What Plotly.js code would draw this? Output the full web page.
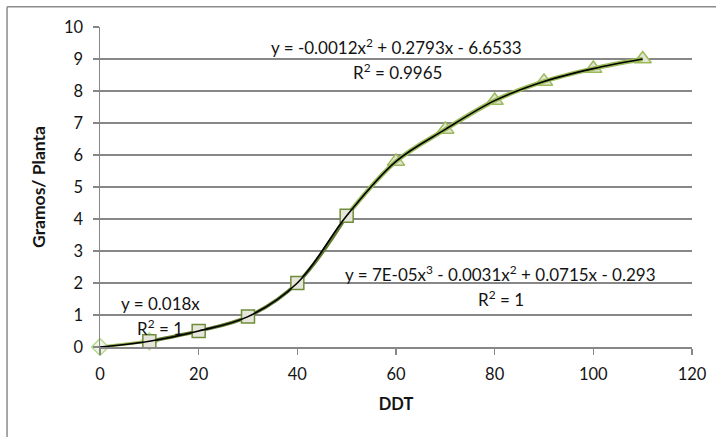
<!DOCTYPE html>
<html>
<head>
<meta charset="utf-8">
<script src="https://cdn.plot.ly/plotly-3.0.1.min.js"></script>
<style>
  html, body { margin: 0; padding: 0; background: #ffffff; }
  #chart { width: 716px; height: 437px; }
</style>
</head>
<body>
<div id="chart"></div>
<script>
// DDT (x) vs grams per plant (y), three growth phases
const phase1X = [0, 10];
const phase1Y = [0, 0.18];

const phase2X = [10, 20, 30, 40, 50];
const phase2Y = [0.18, 0.5, 0.95, 2.0, 4.1];

const phase3X = [50, 60, 70, 80, 90, 100, 110];
const phase3Y = [4.1, 5.8, 6.8, 7.7, 8.3, 8.7, 9.0];

// smoothed fit line drawn across all phases
const fitX = [0, 10, 20, 30, 40, 50, 60, 70, 80, 90, 100, 110];
const fitY = [0, 0.18, 0.5, 0.95, 2.0, 4.1, 5.8, 6.8, 7.7, 8.3, 8.7, 9.0];

const xTicks = [0, 20, 40, 60, 80, 100, 120];
const yTicks = [0, 1, 2, 3, 4, 5, 6, 7, 8, 9, 10];

const eqLinear = 'y = 0.018x';
const r2Linear = 'R<sup>2</sup> = 1';
const eqCubic = 'y = 7E-05x<sup>3</sup> - 0.0031x<sup>2</sup> + 0.0715x - 0.293';
const r2Cubic = 'R<sup>2</sup> = 1';
const eqQuad = 'y = -0.0012x<sup>2</sup> + 0.2793x - 6.6533';
const r2Quad = 'R<sup>2</sup> = 0.9965';

const FONT = 'Lato, "Open Sans", sans-serif';
const INK = '#141414';
const GRID = '#878787';

const traces = [
  {
    x: phase3X.slice(1), y: phase3Y.slice(1), type: 'scatter', mode: 'markers', cliponaxis: false,
    marker: { symbol: 'triangle-up', size: 15, color: '#e3e3d6', line: { color: '#9bbb59', width: 1.5 } },
    hoverinfo: 'skip'
  },
  {
    x: phase3X, y: phase3Y, type: 'scatter', mode: 'lines', cliponaxis: false,
    line: { color: '#9bbb59', width: 4.5, shape: 'spline', smoothing: 1 },
    hoverinfo: 'skip'
  },
  {
    x: phase1X, y: phase1Y, type: 'scatter', mode: 'lines+markers', cliponaxis: false,
    line: { color: '#9bbb59', width: 3 },
    marker: { symbol: 'diamond', size: 13, color: '#eef4e6', line: { color: '#b5d98f', width: 1.5 } },
    hoverinfo: 'skip'
  },
  {
    x: phase2X, y: phase2Y, type: 'scatter', mode: 'lines+markers', cliponaxis: false,
    line: { color: '#5f7a2e', width: 3.5, shape: 'spline', smoothing: 1 },
    marker: { symbol: 'square', size: 13, color: '#e6e6da', line: { color: '#6f8c3a', width: 1.5 } },
    hoverinfo: 'skip'
  },
  {
    x: fitX, y: fitY, type: 'scatter', mode: 'lines', cliponaxis: false,
    line: { color: '#000000', width: 1.6, shape: 'spline', smoothing: 1 },
    hoverinfo: 'skip'
  }
];

function note(text, x, y) {
  return {
    text: text, xref: 'x', yref: 'y', x: x, y: y,
    showarrow: false, xanchor: 'center', yanchor: 'middle',
    font: { family: FONT, size: 17, color: INK }
  };
}

const layout = {
  width: 716, height: 437,
  margin: { l: 100, r: 24, t: 27, b: 90, pad: 0 },
  paper_bgcolor: '#ffffff', plot_bgcolor: '#ffffff',
  showlegend: false,
  font: { family: FONT, size: 16, color: INK },
  xaxis: {
    range: [0, 120], tickvals: xTicks, ticktext: xTicks.map(String),
    showgrid: false, zeroline: false,
    showline: true, linecolor: GRID, linewidth: 1.5,
    ticks: 'outside', ticklen: 6, tickcolor: GRID, tickwidth: 1.2,
    ticklabelstandoff: 6,
    tickfont: { family: FONT, size: 16.5, color: INK },
    title: { text: '<b>DDT</b>', font: { family: FONT, size: 16.5, color: INK }, standoff: 15 },
    fixedrange: true
  },
  yaxis: {
    range: [0, 10], tickvals: yTicks, ticktext: yTicks.map(String),
    showgrid: true, gridcolor: GRID, gridwidth: 1.2, zeroline: false,
    showline: true, linecolor: GRID, linewidth: 1.5,
    ticks: 'outside', ticklen: 6, tickcolor: GRID, tickwidth: 1.2,
    ticklabelstandoff: 6,
    tickfont: { family: FONT, size: 16.5, color: INK },
    title: { text: '<b>Gramos/ Planta</b>', font: { family: FONT, size: 17.5, color: INK }, standoff: 14 },
    fixedrange: true
  },
  shapes: [
    { type: 'line', xref: 'paper', yref: 'paper', x0: -0.157, x1: -0.157, y0: 1.0636, y1: -0.5,
      line: { color: '#8c8c8c', width: 1.5 } },
    { type: 'line', xref: 'paper', yref: 'paper', x0: -0.157, x1: 1.2, y0: 1.0636, y1: 1.0636,
      line: { color: '#8c8c8c', width: 1.5 } }
  ],
  annotations: [
    note(eqQuad, 60.1, 9.38),
    note(r2Quad, 60.3, 8.6),
    note(eqCubic, 81.2, 2.29),
    note(r2Cubic, 81.2, 1.52),
    note(eqLinear, 12.2, 1.37),
    note(r2Linear, 12.2, 0.62)
  ]
};

Plotly.newPlot('chart', traces, layout, { displayModeBar: false, staticPlot: true });
</script>
</body>
</html>
